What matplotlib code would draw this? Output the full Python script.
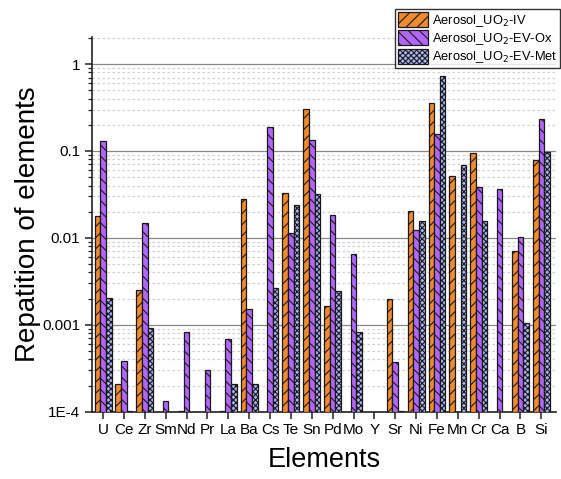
import numpy as np
import matplotlib
matplotlib.use("Agg")
import matplotlib.pyplot as plt
from matplotlib.ticker import LogLocator, FixedLocator, FixedFormatter, NullFormatter

plt.rcParams['font.family'] = ['Liberation Sans', 'DejaVu Sans']
plt.rcParams['hatch.linewidth'] = 0.8

elements = ["U", "Ce", "Zr", "Sm", "Nd", "Pr", "La", "Ba", "Cs", "Te", "Sn",
            "Pd", "Mo", "Y", "Sr", "Ni", "Fe", "Mn", "Cr", "Ca", "B", "Si"]
nan = np.nan
aerosol_iv = [0.018, 0.000208, 0.00252, nan, 1.03e-4, nan, 1.03e-4, 0.028, nan, 0.0326, 0.301,
              0.00165, nan, nan, 0.00197, 0.0203, 0.353, 0.0516, 0.094, nan, 0.0071, 0.0788]
aerosol_ev_ox = [0.131, 0.000386, 0.0149, 0.000132, 0.000824, 0.000298, 0.000685, 0.00153, 0.187,
                 0.0115, 0.133, 0.0182, 0.00649, nan, 0.000372, 0.0123, 0.158, nan, 0.0382,
                 0.0363, 0.0102, 0.231]
aerosol_ev_met = [0.00206, 1.03e-4, 0.00093, nan, nan, nan, 0.000208, 0.000208, 0.00268, 0.0239,
                  0.0318, 0.00248, 0.000824, nan, 1.03e-4, 0.0156, 0.72, 0.0684, 0.0156, nan,
                  0.00104, 0.098]
series_labels = ["Aerosol_UO$_2$-IV", "Aerosol_UO$_2$-EV-Ox", "Aerosol_UO$_2$-EV-Met"]

fig = plt.figure(figsize=(5.61, 4.79), dpi=100)
ax = fig.add_axes([0.164, 0.1405, 0.827, 0.7823])

x = np.arange(len(elements))
w = 0.27
styles = [
    dict(color="#F28A2E", hatch="///"),
    dict(color="#B266FF", hatch="\\\\\\"),
    dict(color="#A9B4F2", hatch="xxxxxx"),
]
series = [aerosol_iv, aerosol_ev_ox, aerosol_ev_met]
handles = []
for i, (vals, st, lab) in enumerate(zip(series, styles, series_labels)):
    v = np.array(vals, dtype=float)
    b = ax.bar(x + (i - 1) * w, v - 1e-4, bottom=1e-4, width=w, color=st["color"],
               edgecolor="#1a1a1a", linewidth=0.9, hatch=st["hatch"], label=lab, zorder=3)
    handles.append(b)

ax.set_yscale("log")
ax.set_ylim(1e-4, 2.05)
ax.set_xlim(-0.53, 21.7)

ax.yaxis.set_major_locator(FixedLocator([1e-4, 1e-3, 1e-2, 1e-1, 1]))
ax.yaxis.set_major_formatter(FixedFormatter(["1E-4", "0.001", "0.01", "0.1", "1"]))
ax.yaxis.set_minor_locator(LogLocator(base=10, subs=np.arange(2, 10), numticks=20))
ax.yaxis.set_minor_formatter(NullFormatter())

ax.set_xticks(x)
ax.set_xticklabels(elements)

ax.grid(axis="y", which="major", color="#888888", linewidth=0.9, linestyle="-", zorder=0)
ax.grid(axis="y", which="minor", color="#d0d0d0", linewidth=0.9, linestyle=(0, (2, 2)), zorder=0)

for s in ["top", "right"]:
    ax.spines[s].set_visible(False)
for s in ["left", "bottom"]:
    ax.spines[s].set_linewidth(1.2)
    ax.spines[s].set_color("#222222")

ax.tick_params(axis="both", which="major", direction="out", length=5, width=1.1,
               labelsize=11, colors="#222222", labelcolor="black")
ax.tick_params(axis="y", which="minor", direction="out", length=3, width=0.9, colors="#222222")
ax.tick_params(axis="x", pad=3)

ax.set_xlabel("Elements", fontsize=19.5, labelpad=7)
ax.set_ylabel("Repatition of elements", fontsize=20, labelpad=1)

leg = fig.legend(handles=handles, loc="upper right", bbox_to_anchor=(0.998, 0.981),
                 fontsize=9.3, frameon=True, fancybox=False, edgecolor="black",
                 handlelength=2.35, handleheight=1.45, borderpad=0.2, labelspacing=0.12,
                 handletextpad=0.3, borderaxespad=0.0)
leg.get_frame().set_linewidth(1.0)
leg.set_zorder(10)

fig.savefig("out.png", dpi=100)
